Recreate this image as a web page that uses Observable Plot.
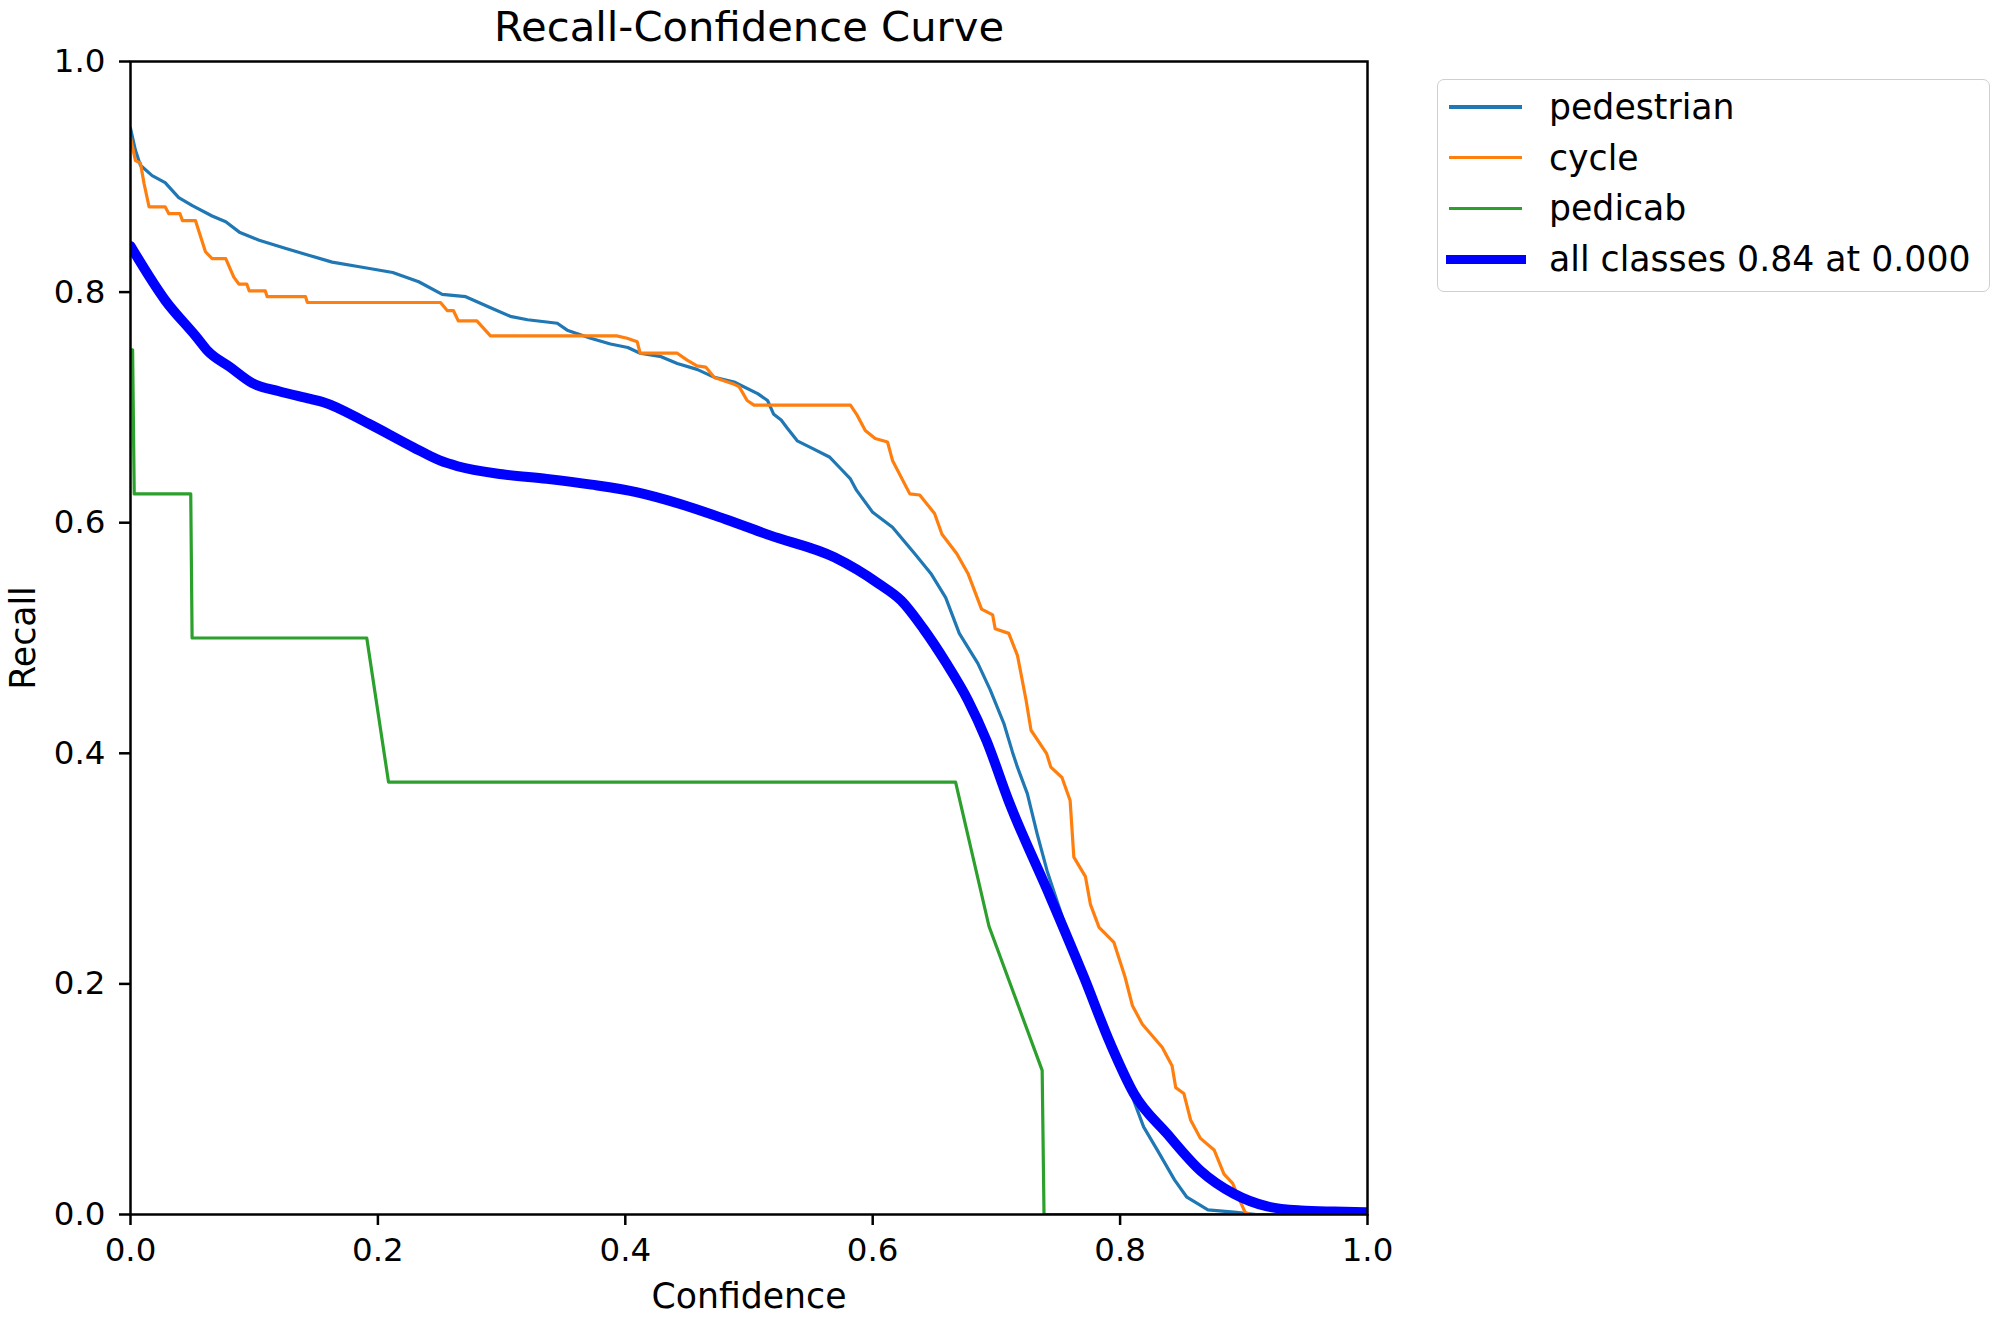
<!DOCTYPE html>
<html>
<head>
<meta charset="utf-8">
<script src="https://cdn.jsdelivr.net/npm/d3@7"></script>
<script src="https://cdn.jsdelivr.net/npm/@observablehq/plot@0.6"></script>
<style>
  html, body { margin: 0; padding: 0; background: white; }
  #wrap { position: relative; width: 2000px; height: 1322px; font-family: "DejaVu Sans", sans-serif; }
  #legend { position: absolute; left: 1437px; top: 79px; width: 553px; height: 213px; box-sizing: border-box;
            border: 1.5px solid #cfcfcf; border-radius: 7px; background: rgba(255,255,255,0.8); }
  .row { position: absolute; left: 0; height: 50px; }
  .sw { position: absolute; }
  .lab { position: absolute; left: 111px; font-size: 34.7px; line-height: 50px; white-space: nowrap; color: #000; }
</style>
</head>
<body>
<div id="wrap"></div>
<script>
const xTicks = [0, 0.2, 0.4, 0.6, 0.8, 1.0];
const yTicks = [0, 0.2, 0.4, 0.6, 0.8, 1.0];
const seriesNames = ["pedestrian", "cycle", "pedicab", "all classes 0.84 at 0.000"];
const seriesColors = ["#1f77b4", "#ff7f0e", "#2ca02c", "#0000ff"];

const pedestrianConf = [0, 0.004, 0.008, 0.0175, 0.028, 0.039, 0.050, 0.066, 0.077, 0.088, 0.104, 0.125, 0.144, 0.163, 0.185, 0.212, 0.233, 0.252, 0.271, 0.292, 0.307, 0.321, 0.345, 0.353, 0.372, 0.388, 0.402, 0.412, 0.429, 0.442, 0.458, 0.472, 0.488, 0.507, 0.515, 0.520, 0.526, 0.531, 0.539, 0.552, 0.565, 0.574, 0.582, 0.587, 0.600, 0.616, 0.634, 0.647, 0.659, 0.670, 0.685, 0.695, 0.706, 0.713, 0.717, 0.725, 0.733, 0.741, 0.749, 0.757, 0.765, 0.773, 0.782, 0.791, 0.802, 0.811, 0.819, 0.830, 0.844, 0.854, 0.871, 0.892, 0.910, 1.0];
const pedestrianRecall = [0.942, 0.923, 0.910, 0.901, 0.895, 0.882, 0.875, 0.866, 0.861, 0.852, 0.845, 0.838, 0.832, 0.826, 0.822, 0.817, 0.809, 0.798, 0.796, 0.786, 0.779, 0.776, 0.773, 0.767, 0.760, 0.755, 0.752, 0.747, 0.744, 0.738, 0.733, 0.726, 0.722, 0.712, 0.706, 0.694, 0.689, 0.682, 0.671, 0.664, 0.657, 0.647, 0.638, 0.628, 0.609, 0.596, 0.573, 0.556, 0.535, 0.504, 0.478, 0.455, 0.426, 0.401, 0.388, 0.365, 0.330, 0.298, 0.272, 0.246, 0.223, 0.200, 0.171, 0.148, 0.125, 0.099, 0.076, 0.056, 0.030, 0.015, 0.004, 0.002, 0, 0];

const cycleConf = [0, 0.004, 0.008, 0.011, 0.015, 0.028, 0.031, 0.040, 0.042, 0.0525, 0.0606, 0.066, 0.077, 0.0835, 0.0876, 0.094, 0.096, 0.109, 0.1105, 0.1415, 0.143, 0.2506, 0.256, 0.261, 0.265, 0.280, 0.291, 0.393, 0.4015, 0.4096, 0.412, 0.442, 0.450, 0.458, 0.465, 0.472, 0.488, 0.492, 0.4985, 0.504, 0.582, 0.587, 0.594, 0.602, 0.612, 0.616, 0.630, 0.638, 0.650, 0.656, 0.668, 0.677, 0.688, 0.697, 0.699, 0.710, 0.717, 0.724, 0.728, 0.7405, 0.744, 0.753, 0.7596, 0.7626, 0.772, 0.776, 0.783, 0.795, 0.804, 0.810, 0.818, 0.834, 0.842, 0.845, 0.8515, 0.857, 0.865, 0.876, 0.884, 0.891, 0.896, 0.901, 0.905, 1.0];
const cycleRecall = [0.934, 0.914, 0.912, 0.894, 0.874, 0.874, 0.868, 0.868, 0.862, 0.862, 0.835, 0.829, 0.829, 0.813, 0.807, 0.807, 0.801, 0.801, 0.796, 0.796, 0.791, 0.791, 0.784, 0.784, 0.775, 0.775, 0.762, 0.762, 0.760, 0.757, 0.747, 0.747, 0.741, 0.736, 0.735, 0.726, 0.720, 0.718, 0.706, 0.702, 0.702, 0.694, 0.680, 0.673, 0.670, 0.654, 0.625, 0.624, 0.608, 0.590, 0.573, 0.556, 0.525, 0.520, 0.508, 0.504, 0.485, 0.446, 0.420, 0.400, 0.388, 0.379, 0.359, 0.310, 0.293, 0.269, 0.249, 0.236, 0.206, 0.181, 0.165, 0.145, 0.129, 0.110, 0.105, 0.082, 0.066, 0.056, 0.035, 0.027, 0.014, 0.002, 0, 0];

const pedicabConf = [0, 0.0017, 0.003, 0.0487, 0.0498, 0.191, 0.2086, 0.667, 0.694, 0.737, 0.7385, 1.0];
const pedicabRecall = [0.75, 0.75, 0.625, 0.625, 0.5, 0.5, 0.375, 0.375, 0.25, 0.125, 0, 0];

const allConf = [0, 0.028, 0.0534, 0.0624, 0.0804, 0.0985, 0.120, 0.1454, 0.156, 0.1923, 0.2284, 0.250, 0.2644, 0.3006, 0.3366, 0.3727, 0.4088, 0.445, 0.481, 0.517, 0.569, 0.605, 0.623, 0.641, 0.659, 0.677, 0.692, 0.7098, 0.7437, 0.7707, 0.7922, 0.8111, 0.838, 0.865, 0.892, 0.919, 0.946, 0.973, 1.0];
const allRecall = [0.840, 0.793, 0.761, 0.749, 0.735, 0.721, 0.714, 0.7074, 0.7045, 0.686, 0.6655, 0.654, 0.649, 0.642, 0.638, 0.633, 0.6265, 0.616, 0.603, 0.589, 0.570, 0.547, 0.5325, 0.508, 0.479, 0.446, 0.411, 0.359, 0.275, 0.206, 0.148, 0.105, 0.070, 0.038, 0.018, 0.007, 0.0035, 0.0025, 0.002];

const toRows = (xs, ys) => xs.map((x, i) => ({x, y: ys[i]}));
const pedestrian = toRows(pedestrianConf, pedestrianRecall);
const cycle = toRows(cycleConf, cycleRecall);
const pedicab = toRows(pedicabConf, pedicabRecall);
const all = toRows(allConf, allRecall);

const fmt = d3.format(".1f");
const chart = Plot.plot({
  width: 2000,
  height: 1322,
  marginLeft: 130,
  marginRight: 633,
  marginTop: 61,
  marginBottom: 108,
  x: {domain: [0, 1]},
  y: {domain: [0, 1]},
  style: {fontFamily: "DejaVu Sans", background: "white", color: "black"},
  marks: [
    Plot.line(pedestrian, {x: "x", y: "y", stroke: seriesColors[0], strokeWidth: 3.2, clip: true}),
    Plot.line(cycle, {x: "x", y: "y", stroke: seriesColors[1], strokeWidth: 3.2, clip: true}),
    Plot.line(pedicab, {x: "x", y: "y", stroke: seriesColors[2], strokeWidth: 3.2, clip: true}),
    Plot.line(all, {x: "x", y: "y", stroke: seriesColors[3], strokeWidth: 10, curve: "monotone-x", clip: true}),
    Plot.frame({stroke: "black", strokeWidth: 2.5}),
    Plot.axisX({ticks: xTicks, tickFormat: fmt, tickSize: 11, tickPadding: 12, fontSize: 32.5, label: null, strokeWidth: 2.5}),
    Plot.axisY({ticks: yTicks, tickFormat: fmt, tickSize: 11, tickPadding: 14, fontSize: 32.5, label: null, strokeWidth: 2.5}),
    Plot.text(["Recall-Confidence Curve"], {frameAnchor: "top", dy: -34, fontSize: 41.7, textAnchor: "middle", lineAnchor: "middle"}),
    Plot.text(["Confidence"], {frameAnchor: "bottom", dy: 82, fontSize: 34.7, textAnchor: "middle", lineAnchor: "middle"}),
    Plot.text(["Recall"], {frameAnchor: "left", dx: -107, fontSize: 34.7, textAnchor: "middle", lineAnchor: "middle", rotate: -90})
  ]
});

const wrap = document.getElementById("wrap");
wrap.appendChild(chart);

const legend = document.createElement("div");
legend.id = "legend";
seriesNames.forEach((name, i) => {
  const row = document.createElement("div");
  row.className = "row";
  row.style.top = (2 + 50.7 * i) + "px";
  row.style.width = "100%";
  const sw = document.createElement("div");
  sw.className = "sw";
  const thick = i === 3;
  sw.style.height = (thick ? 9 : 3.2) + "px";
  sw.style.left = (thick ? 8 : 11) + "px";
  sw.style.width = (thick ? 80 : 73) + "px";
  sw.style.background = seriesColors[i];
  sw.style.top = (25 - (thick ? 4.5 : 1.6)) + "px";
  const lab = document.createElement("span");
  lab.className = "lab";
  lab.textContent = name;
  lab.style.top = "0px";
  row.appendChild(sw);
  row.appendChild(lab);
  legend.appendChild(row);
});
wrap.appendChild(legend);
</script>
</body>
</html>
